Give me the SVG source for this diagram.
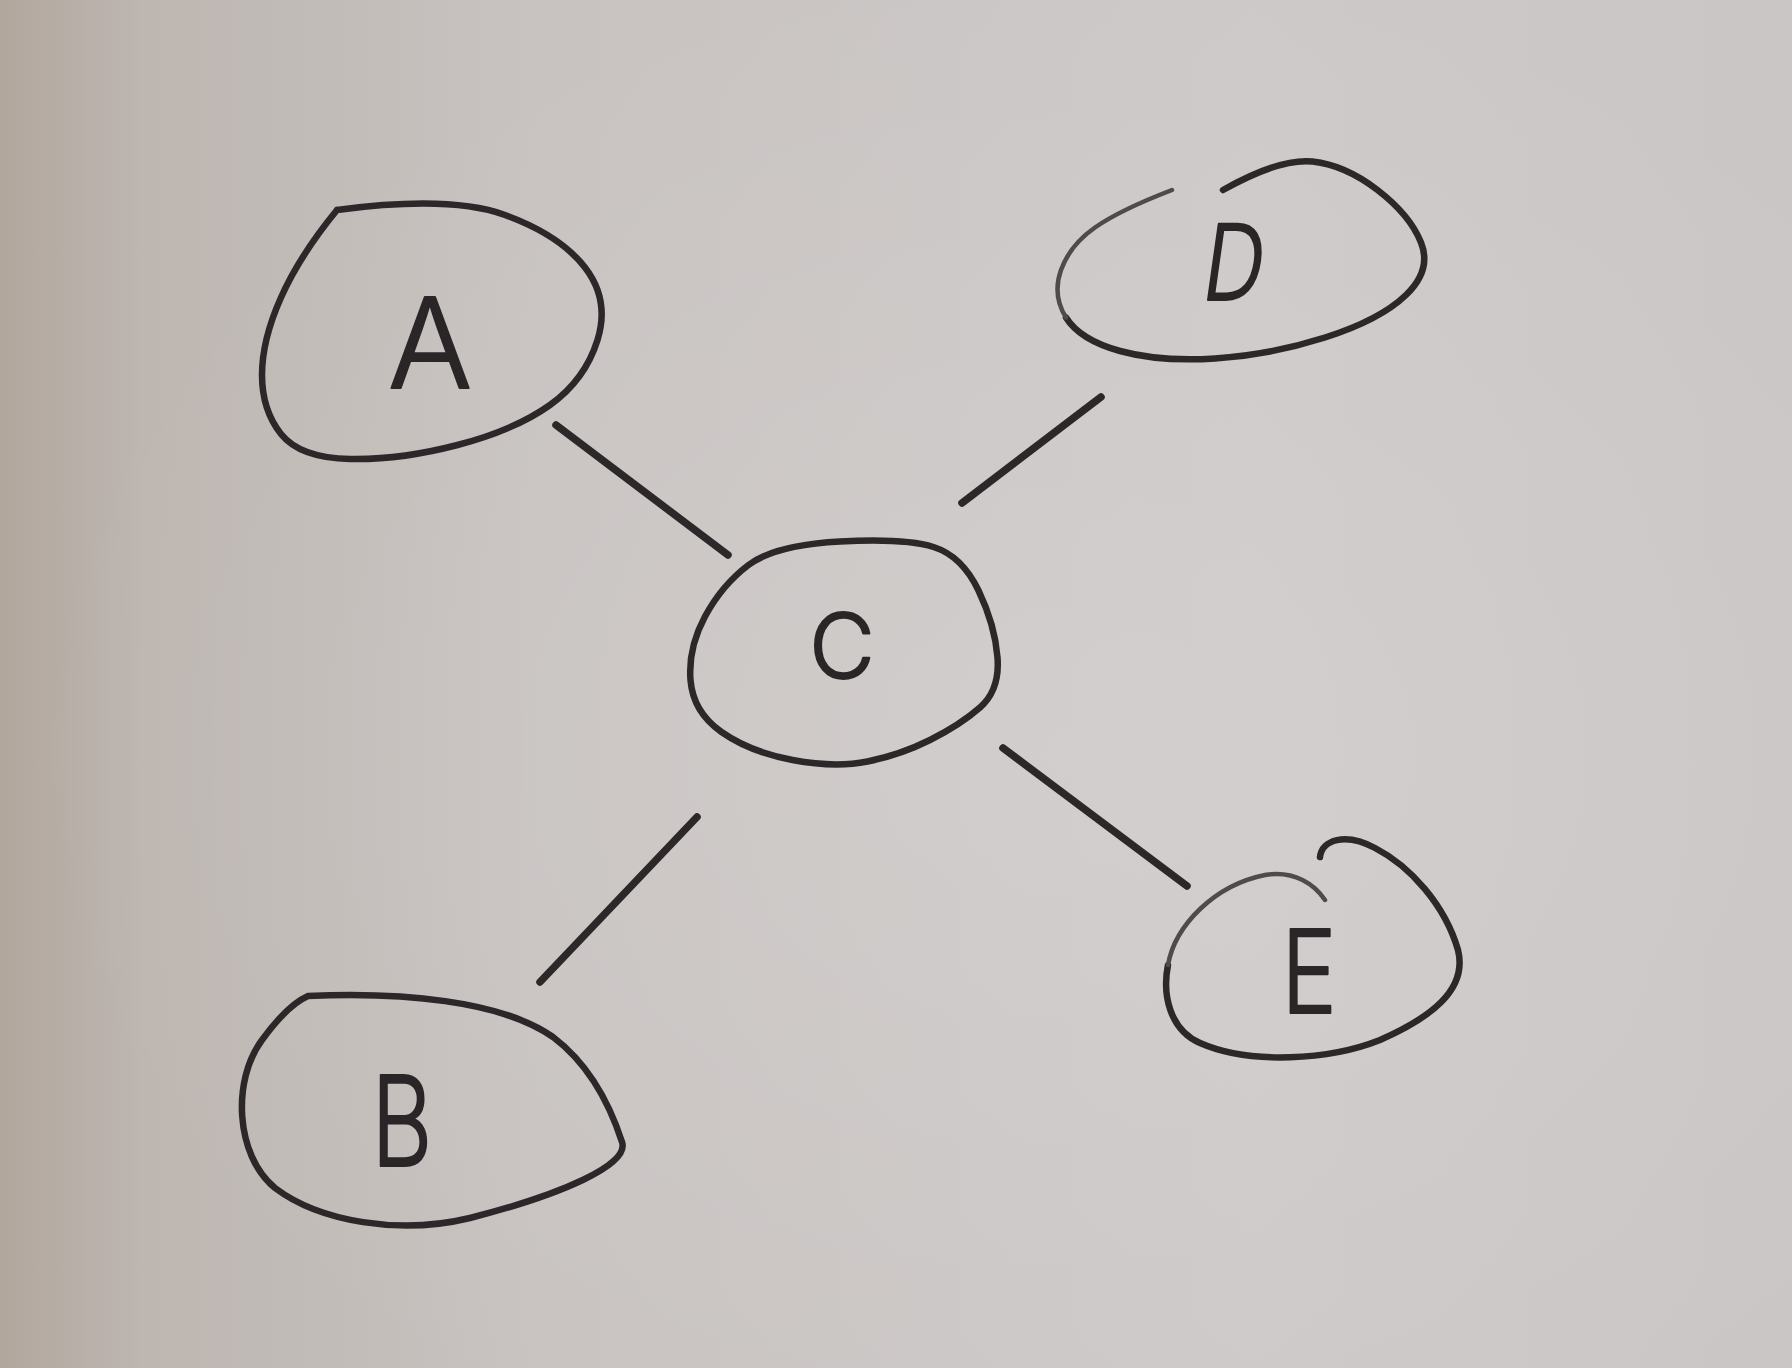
<svg xmlns="http://www.w3.org/2000/svg" width="1792" height="1368" viewBox="0 0 1792 1368">
  <defs>
    <linearGradient id="paper" x1="0" y1="0" x2="1" y2="0">
      <stop offset="0" stop-color="#b2a79d"/>
      <stop offset="0.08" stop-color="#bdb6b1"/>
      <stop offset="0.3" stop-color="#c8c3c1"/>
      <stop offset="0.7" stop-color="#cdc9c8"/>
      <stop offset="1" stop-color="#cac6c5"/>
    </linearGradient>
    <radialGradient id="light" cx="0.6" cy="0.55" r="0.6">
      <stop offset="0" stop-color="#ffffff" stop-opacity="0.12"/>
      <stop offset="1" stop-color="#ffffff" stop-opacity="0"/>
    </radialGradient>
  </defs>
  <style>
    .blob { fill: none; stroke: #2c2829; stroke-width: 6.5; stroke-linecap: round; stroke-linejoin: round; }
    .faint { fill: none; stroke: #4f4a4b; stroke-width: 4.5; stroke-linecap: round; stroke-linejoin: round; }
    .edge { fill: none; stroke: #2c2829; stroke-width: 7.5; stroke-linecap: round; }
    .lbl { font-family: Inter, Lato, "Open Sans", "Liberation Sans", sans-serif; font-weight: 300; fill: #2a2627; stroke: #2a2627; stroke-width: 2; stroke-linejoin: round; text-anchor: middle; }
  </style>
  <rect x="0" y="0" width="1792" height="1368" fill="url(#paper)"/>
  <rect x="0" y="0" width="1792" height="1368" fill="url(#light)"/>

  <g id="connectors">
    <line class="edge" x1="556" y1="425" x2="728" y2="555"/>
    <line class="edge" x1="1101" y1="397" x2="962" y2="503"/>
    <line class="edge" x1="697" y1="817" x2="540" y2="982"/>
    <line class="edge" x1="1003" y1="748" x2="1187" y2="886"/>
  </g>

  <g id="node-A">
    <path class="blob" d="M 337,210 Q 450,195 505,215 Q 560,235 585,267.5 Q 610,300 597.5,340 Q 585,380 550,405 Q 515,430 457.5,445 Q 400,460 350,459 Q 300,458 281,434 Q 262,410 262,375 Q 262,340 281,297.5 Q 300,255 337,210"/>
    <text class="lbl" x="430" y="388" font-size="125">A</text>
  </g>

  <g id="node-D">
    <path class="blob" d="M 1223,190 Q 1280,158 1312.5,161.5 Q 1345,165 1377.5,190 Q 1410,215 1421,242.5 Q 1432,270 1406,295 Q 1380,320 1325,337.5 Q 1270,355 1215,358.5 Q 1160,362 1120,351 Q 1080,340 1066,317.5"/>
    <path class="faint" d="M 1066,317.5 Q 1052,295 1061,270 Q 1070,245 1095,227.5 Q 1120,210 1172,190"/>
    <text class="lbl" font-size="105" transform="translate(1230,300) skewX(-8) scale(0.8,1)">D</text>
  </g>

  <g id="node-C">
    <path class="blob" d="M 748.5,565 Q 775,545 840,541.5 Q 905,538 933.5,547 Q 962,556 978.5,590.5 Q 995,625 997.5,657.5 Q 1000,690 980,707.5 Q 960,725 930,740 Q 900,755 867.5,761.5 Q 835,768 792.5,760 Q 750,752 721.5,732 Q 693,712 690.5,680 Q 688,648 705,616.5 Q 722,585 748.5,565 Z"/>
    <text class="lbl" x="842" y="678" font-size="90">C</text>
  </g>

  <g id="node-B">
    <path class="blob" d="M 308,996 C 400,992 500,1000 553,1037 C 590,1065 610,1105 622,1142 C 630,1165 560,1195 470,1218 C 400,1235 320,1222 275,1188 C 235,1155 232,1080 262,1040 C 278,1018 292,1003 308,996 Z"/>
    <text class="lbl" font-size="125" transform="translate(402,1166) scale(0.75,1)">B</text>
  </g>

  <g id="node-E">
    <path class="blob" d="M 1320,857 C 1322,840 1345,832 1375,848 C 1410,866 1445,905 1458,950 C 1468,990 1430,1018 1380,1040 C 1330,1060 1250,1065 1200,1043 C 1170,1030 1162,995 1168,965"/>
    <path class="faint" d="M 1168,965 C 1175,925 1215,885 1265,875 C 1295,870 1315,885 1325,900"/>
    <text class="lbl" font-size="116" transform="translate(1309,1013) scale(0.8,1)">E</text>
  </g>
</svg>
